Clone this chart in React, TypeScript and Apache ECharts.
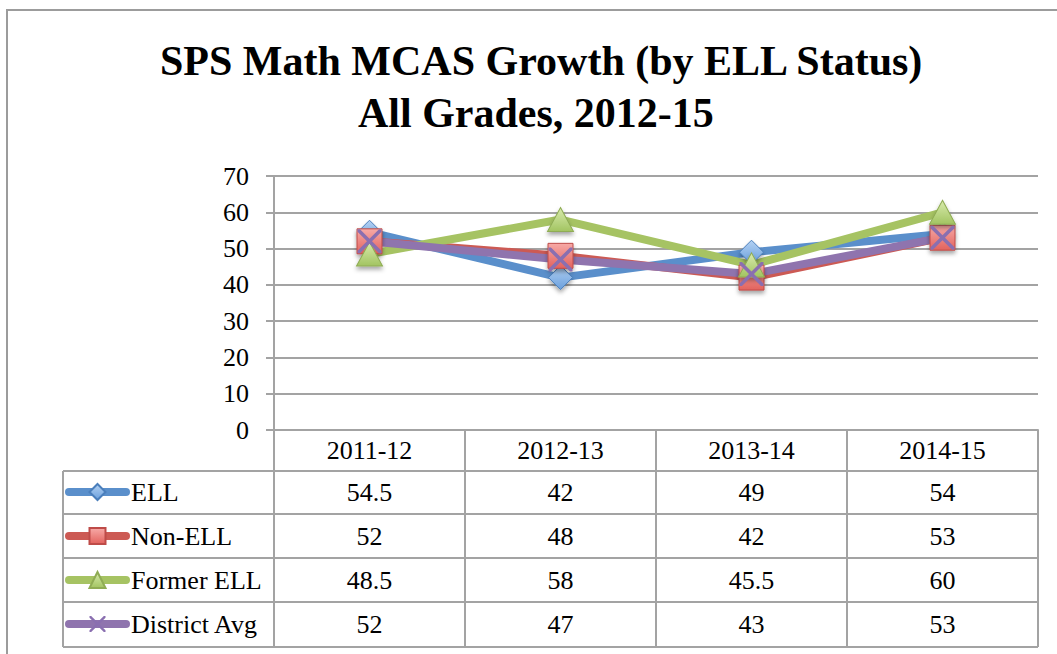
import React, { useEffect, useRef } from "react";
import * as echarts from "echarts";

const titleLine1 = "SPS Math MCAS Growth (by ELL Status)";
const titleLine2 = "All Grades, 2012-15";

const categories = ["2011-12", "2012-13", "2013-14", "2014-15"];
const seriesNames = ["ELL", "Non-ELL", "Former ELL", "District Avg"];
const ellValues = [54.5, 42, 49, 54];
const nonEllValues = [52, 48, 42, 53];
const formerEllValues = [48.5, 58, 45.5, 60];
const districtAvgValues = [52, 47, 43, 53];

const yMin = 0;
const yMax = 70;
const yInterval = 10;

const W = 1057;
const H = 654;
const FONT = "'Liberation Serif', 'Times New Roman', serif";
const GRAY = "#a3a3a3";

const GRID_LEFT = 274;
const GRID_RIGHT_X = 1038;
const GRID_TOP = 176;
const AXIS_Y = 430;
const TABLE_LEFT = 63;
const ROW_LINES = [471, 514, 558, 602, 647];

const X_PATH =
  "path://M0,0 L2.5,0 L12,9.5 L21.5,0 L24,0 L24,2.5 L14.5,12 L24,21.5 L24,24 L21.5,24 L12,14.5 L2.5,24 L0,24 L0,21.5 L9.5,12 L0,2.5 Z";

function grad(top: string, bottom: string) {
  return new echarts.graphic.LinearGradient(0, 0, 0, 1, [
    { offset: 0, color: top },
    { offset: 1, color: bottom },
  ]);
}

export default function App() {
  const ref = useRef<HTMLDivElement>(null);

  useEffect(() => {
    if (!ref.current) return;
    const chart = echarts.init(ref.current, null, { renderer: "svg" });

    const allValues = [ellValues, nonEllValues, formerEllValues, districtAvgValues];
    const colW = (GRID_RIGHT_X - GRID_LEFT) / categories.length;

    const graphics: any[] = [
      {
        type: "rect",
        z: -10,
        shape: { x: 7, y: 10, width: 1200, height: 800 },
        style: { fill: "none", stroke: "#9c9c9c", lineWidth: 2 },
        silent: true,
      },
      {
        type: "line",
        shape: { x1: TABLE_LEFT, y1: ROW_LINES[0], x2: TABLE_LEFT, y2: ROW_LINES[ROW_LINES.length - 1] },
        style: { stroke: GRAY, lineWidth: 2 },
        silent: true,
      },
    ];
    ROW_LINES.forEach((y) => {
      graphics.push({
        type: "line",
        shape: { x1: TABLE_LEFT, y1: y, x2: GRID_RIGHT_X, y2: y },
        style: { stroke: GRAY, lineWidth: 2 },
        silent: true,
      });
    });
    allValues.forEach((vals, r) => {
      const cy = (ROW_LINES[r] + ROW_LINES[r + 1]) / 2;
      vals.forEach((v, c) => {
        graphics.push({
          type: "text",
          x: GRID_LEFT + colW * (c + 0.5),
          y: cy,
          style: {
            text: String(v),
            fontFamily: FONT,
            fontSize: 26,
            fill: "#000",
            align: "center",
            verticalAlign: "middle",
          },
          silent: true,
        });
      });
    });

    const shadow = {
      shadowBlur: 4,
      shadowColor: "rgba(0,0,0,0.35)",
      shadowOffsetY: 3,
    };

    const lineBase = (name: string, data: number[], color: string) => ({
      type: "line",
      name,
      data,
      lineStyle: { color, width: 8, cap: "round", join: "round" },
      emphasis: { disabled: true },
    });

    const titleStyle = {
      fontFamily: FONT,
      fontWeight: "bold",
      fontSize: 42,
      lineHeight: 52,
      color: "#000",
    };

    const option: any = {
      animation: false,
      backgroundColor: "#ffffff",
      title: [
        { text: titleLine1, left: 160, top: 35, padding: 0, textStyle: titleStyle },
        { text: titleLine2, left: 358, top: 87, padding: 0, textStyle: titleStyle },
      ],
      legend: {
        orient: "vertical",
        left: 65,
        top: ROW_LINES[0] - 1,
        padding: 0,
        itemGap: 0,
        itemWidth: 57,
        itemHeight: 20,
        selectedMode: false,
        data: seriesNames,
        lineStyle: { width: 8, cap: "round" },
        textStyle: {
          fontFamily: FONT,
          fontSize: 26,
          lineHeight: 44,
          color: "#000",
        },
      },
      grid: {
        left: GRID_LEFT,
        right: W - GRID_RIGHT_X,
        top: GRID_TOP,
        bottom: H - AXIS_Y,
        containLabel: false,
      },
      xAxis: {
        type: "category",
        data: categories,
        boundaryGap: true,
        axisLine: { show: true, lineStyle: { color: GRAY, width: 2 } },
        axisTick: {
          show: true,
          interval: 0,
          length: ROW_LINES[ROW_LINES.length - 1] - AXIS_Y,
          lineStyle: { color: GRAY, width: 2 },
        },
        axisLabel: {
          interval: 0,
          margin: 20,
          verticalAlign: "middle",
          fontFamily: FONT,
          fontSize: 26,
          color: "#000",
        },
        splitLine: { show: false },
      },
      yAxis: {
        type: "value",
        min: yMin,
        max: yMax,
        interval: yInterval,
        axisLine: { show: true, lineStyle: { color: GRAY, width: 2 } },
        axisTick: { show: true, length: 8, lineStyle: { color: GRAY, width: 2 } },
        axisLabel: {
          margin: 25,
          fontFamily: FONT,
          fontSize: 26,
          color: "#000",
        },
        splitLine: { show: true, lineStyle: { color: GRAY, width: 2 } },
      },
      series: [
        {
          ...lineBase(seriesNames[0], ellValues, "#5A8FCB"),
          symbol: "diamond",
          symbolSize: [24, 24],
          itemStyle: {
            color: grad("#b3d1f3", "#6a9fdc"),
            borderColor: "#4a7ebb",
            borderWidth: 1,
            ...shadow,
          },
        },
        {
          ...lineBase(seriesNames[1], nonEllValues, "#cc5a54"),
          symbol: "rect",
          symbolSize: [25, 25],
          itemStyle: {
            color: grad("#f7aaa7", "#e2625d"),
            borderColor: "#be4b48",
            borderWidth: 1,
            ...shadow,
          },
        },
        {
          ...lineBase(seriesNames[2], formerEllValues, "#a6c363"),
          symbol: "triangle",
          symbolSize: [26, 24],
          itemStyle: {
            color: grad("#d9ebae", "#a2c461"),
            borderColor: "#8fac54",
            borderWidth: 1,
            ...shadow,
          },
        },
        {
          ...lineBase(seriesNames[3], districtAvgValues, "#8f74ae"),
          symbol: X_PATH,
          symbolSize: [24, 24],
          itemStyle: {
            color: "#8a6fb0",
            borderWidth: 0,
          },
        },
      ],
      graphic: graphics,
    };

    chart.setOption(option);
    return () => chart.dispose();
  }, []);

  return (
    <div
      ref={ref}
      style={{ position: "fixed", left: 0, top: 0, width: W, height: H, background: "#fff" }}
    />
  );
}
